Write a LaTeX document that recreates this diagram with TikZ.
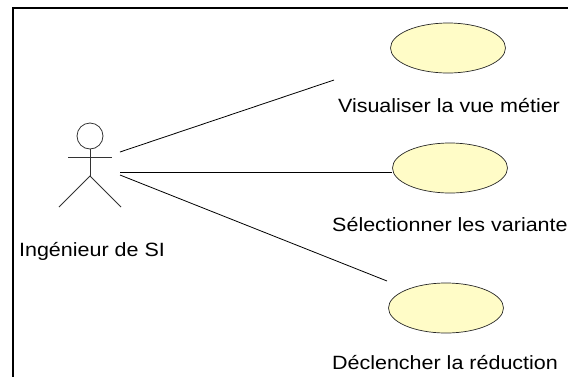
\documentclass[tikz,border=0pt]{standalone}
\usepackage{fontspec}
\setmainfont{Liberation Sans}[FakeStretch=1.12]
\usetikzlibrary{shapes.geometric}
\begin{document}
\begin{tikzpicture}[x=1pt,y=-1pt,
  usecase/.style={ellipse,draw=black!85,line width=0.7pt,fill=yellow!22,minimum width=115pt,minimum height=50pt,inner sep=0pt},
  lbl/.style={font=\fontsize{19.2}{21}\selectfont,inner sep=0pt},
  stick/.style={line width=0.8pt,draw=black!80},
  assoc/.style={line width=0.8pt,draw=black}]
\useasboundingbox (0,0) rectangle (568,376);
\draw[line width=2.6pt] (13,8) rectangle (600,400);
% actor
\node[circle,draw=black!80,line width=0.8pt,minimum size=26pt,inner sep=0pt] (head) at (90,136) {};
\coordinate (neck) at (90,149);
\coordinate (hip) at (90,176);
\coordinate (armL) at (68,157);
\coordinate (armR) at (112,157);
\coordinate (footL) at (59,207);
\coordinate (footR) at (121,207);
\draw[stick] (head.south) -- (hip);
\draw[stick] (armL) -- (armR);
\draw[stick] (footL) -- (hip) -- (footR);
\node[lbl,anchor=base] (actorlbl) at (92,256) {Ingénieur de SI};
% use cases
\node[usecase] (uc1) at (448,48) {};
\node[usecase] (uc2) at (450,168) {};
\node[usecase] (uc3) at (446,308) {};
\node[lbl,anchor=base] (l1) at (449,112) {Visualiser la vue métier};
\node[lbl,anchor=base west] (l2) at (332,231) {Sélectionner les variantes};
\node[lbl,anchor=base] (l3) at (445,369) {Déclencher la réduction};
% connector endpoints
\coordinate (s1) at (120,152);
\coordinate (s2) at (120,172);
\coordinate (s3) at (120,175);
\coordinate (e1) at (334,80);
\coordinate (e2) at (392,172);
\coordinate (e3) at (387,281);
\draw[assoc] (s1) -- (e1);
\draw[assoc] (s2) -- (e2);
\draw[assoc] (s3) -- (e3);
\end{tikzpicture}
\end{document}
